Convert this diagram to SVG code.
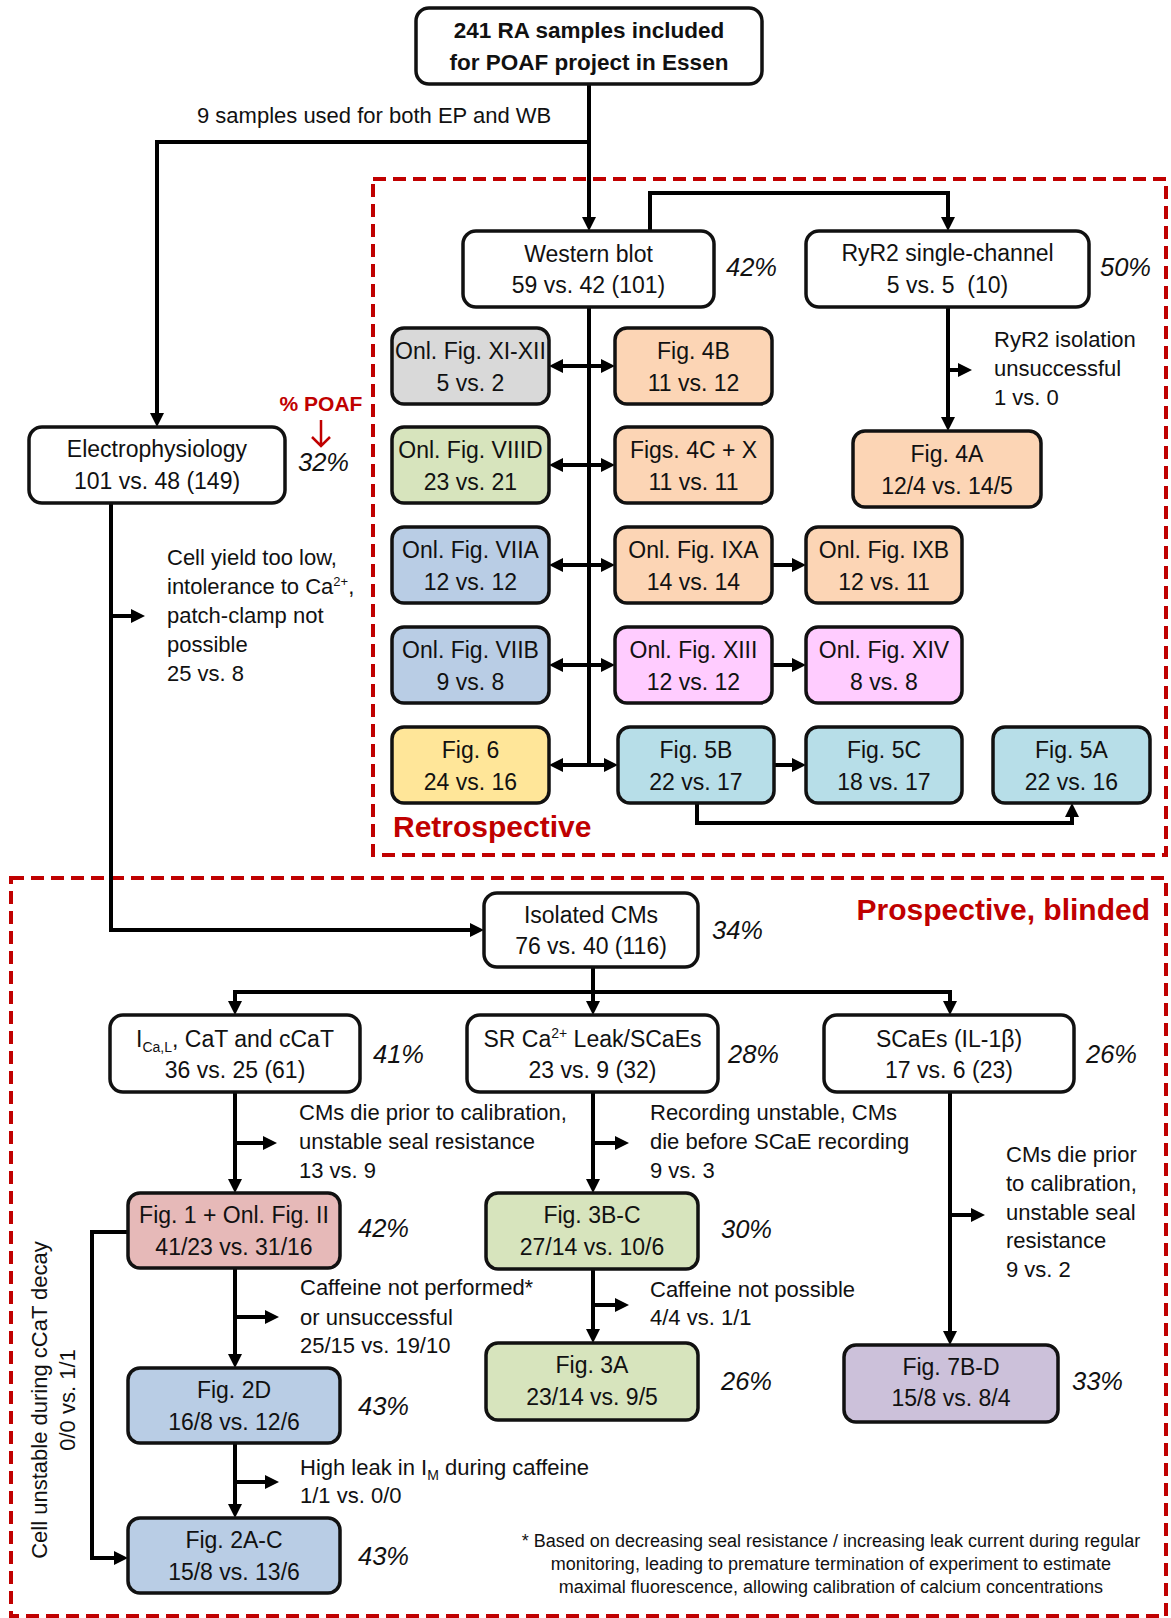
<svg xmlns="http://www.w3.org/2000/svg" width="1171" height="1618" viewBox="0 0 1171 1618">
<style>
.bx{stroke:#111;stroke-width:3.5}
.w{fill:#fff}.or{fill:#fcd5b5}.gy{fill:#d9d9d9}.gn{fill:#d7e4bd}.bl{fill:#b9cde5}.pk{fill:#ffccff}.ye{fill:#ffe699}.lb{fill:#b7dee8}.rd{fill:#e6b9b8}.pu{fill:#ccc1da}
.n{font-family:"Liberation Sans",Arial,sans-serif;font-size:23px;text-anchor:middle;fill:#111}
.t{font-family:"Liberation Sans",Arial,sans-serif;font-size:22.5px;font-weight:bold;text-anchor:middle;fill:#111}
.p{font-family:"Liberation Sans",Arial,sans-serif;font-size:25.5px;font-style:italic;fill:#111}
.a{font-family:"Liberation Sans",Arial,sans-serif;font-size:22px;fill:#111}
.r{font-family:"Liberation Sans",Arial,sans-serif;font-size:30px;font-weight:bold;fill:#c00000}
.f{font-family:"Liberation Sans",Arial,sans-serif;font-size:18px;text-anchor:middle;fill:#111}
.c{fill:none;stroke:#000;stroke-width:4}
.dash{fill:none;stroke:#c00000;stroke-width:4;stroke-dasharray:13 7}
</style>
<defs>
<marker id="ah" markerUnits="userSpaceOnUse" markerWidth="14" markerHeight="14" refX="4" refY="7" orient="auto-start-reverse">
<path d="M0,0 L14,7 L0,14 z" fill="#000"/>
</marker>
</defs>
<rect width="1171" height="1618" fill="#fff"/>

<g id="regions">
<rect class="dash" x="373" y="179" width="793" height="676"/>
<rect class="dash" x="11" y="878" width="1155" height="738"/>
<text class="r" x="393" y="837">Retrospective</text>
<text class="r" x="1150" y="920" text-anchor="end">Prospective, blinded</text>
</g>

<g id="connectors">
<path class="c" d="M589,84 V221" marker-end="url(#ah)"/>
<path class="c" d="M589,142 H157 V417" marker-end="url(#ah)"/>
<path class="c" d="M650,231 V193 H948 V221" marker-end="url(#ah)"/>
<path class="c" d="M589,307 V767"/>
<path class="c" d="M559,366 H605" marker-start="url(#ah)" marker-end="url(#ah)"/>
<path class="c" d="M559,465 H605" marker-start="url(#ah)" marker-end="url(#ah)"/>
<path class="c" d="M559,565 H605" marker-start="url(#ah)" marker-end="url(#ah)"/>
<path class="c" d="M559,665 H605" marker-start="url(#ah)" marker-end="url(#ah)"/>
<path class="c" d="M559,765 H608" marker-start="url(#ah)" marker-end="url(#ah)"/>
<path class="c" d="M948,307 V421" marker-end="url(#ah)"/>
<path class="c" d="M948,370 H962" marker-end="url(#ah)"/>
<path class="c" d="M772,565 H796" marker-end="url(#ah)"/>
<path class="c" d="M772,665 H796" marker-end="url(#ah)"/>
<path class="c" d="M774,765 H796" marker-end="url(#ah)"/>
<path class="c" d="M697,803 V823 H1072 V813" marker-end="url(#ah)"/>
<path class="c" d="M111,503 V930 H474" marker-end="url(#ah)"/>
<path class="c" d="M111,616 H135" marker-end="url(#ah)"/>
<path class="c" d="M593,967 V1005" marker-end="url(#ah)"/>
<path class="c" d="M235,1005 V992 H950 V1005" marker-end="url(#ah)"/>
<path class="c" d="M235,992 V1005" marker-end="url(#ah)"/>
<path class="c" d="M235,1092 V1183" marker-end="url(#ah)"/>
<path class="c" d="M235,1143 H267" marker-end="url(#ah)"/>
<path class="c" d="M593,1092 V1183" marker-end="url(#ah)"/>
<path class="c" d="M593,1143 H619" marker-end="url(#ah)"/>
<path class="c" d="M950,1092 V1335" marker-end="url(#ah)"/>
<path class="c" d="M950,1215 H975" marker-end="url(#ah)"/>
<path class="c" d="M235,1268 V1358" marker-end="url(#ah)"/>
<path class="c" d="M235,1317 H269" marker-end="url(#ah)"/>
<path class="c" d="M235,1443 V1508" marker-end="url(#ah)"/>
<path class="c" d="M235,1482 H269" marker-end="url(#ah)"/>
<path class="c" d="M128,1232 H92 V1558 H118" marker-end="url(#ah)"/>
<path class="c" d="M593,1269 V1333" marker-end="url(#ah)"/>
<path class="c" d="M593,1305 H619" marker-end="url(#ah)"/>
</g>

<g id="labels">
<text class="a" x="197" y="123">9 samples used for both EP and WB</text>
<text class="a" x="994" y="347">RyR2 isolation</text>
<text class="a" x="994" y="376">unsuccessful</text>
<text class="a" x="994" y="405">1 vs. 0</text>
<text class="a" x="167" y="565">Cell yield too low,</text>
<text class="a" x="167" y="594">intolerance to Ca<tspan font-size="13" dy="-8">2+</tspan><tspan dy="8">,</tspan></text>
<text class="a" x="167" y="623">patch-clamp not</text>
<text class="a" x="167" y="652">possible</text>
<text class="a" x="167" y="681">25 vs. 8</text>
<text class="a" x="299" y="1120">CMs die prior to calibration,</text>
<text class="a" x="299" y="1149">unstable seal resistance</text>
<text class="a" x="299" y="1178">13 vs. 9</text>
<text class="a" x="650" y="1120">Recording unstable, CMs</text>
<text class="a" x="650" y="1149">die before SCaE recording</text>
<text class="a" x="650" y="1178">9 vs. 3</text>
<text class="a" x="1006" y="1162">CMs die prior</text>
<text class="a" x="1006" y="1191">to calibration,</text>
<text class="a" x="1006" y="1220">unstable seal</text>
<text class="a" x="1006" y="1248">resistance</text>
<text class="a" x="1006" y="1277">9 vs. 2</text>
<text class="a" x="300" y="1295">Caffeine not performed*</text>
<text class="a" x="300" y="1325">or unsuccessful</text>
<text class="a" x="300" y="1353">25/15 vs. 19/10</text>
<text class="a" x="650" y="1297">Caffeine not possible</text>
<text class="a" x="650" y="1325">4/4 vs. 1/1</text>
<text class="a" x="300" y="1475">High leak in I<tspan font-size="14" dy="5">M</tspan><tspan dy="-5"> during caffeine</tspan></text>
<text class="a" x="300" y="1503">1/1 vs. 0/0</text>
<text class="a" text-anchor="middle" transform="translate(47,1400) rotate(-90)">Cell unstable during cCaT decay</text>
<text class="a" text-anchor="middle" transform="translate(75,1400) rotate(-90)">0/0 vs. 1/1</text>
<text class="f" x="831" y="1547">* Based on decreasing seal resistance / increasing leak current during regular</text>
<text class="f" x="831" y="1570">monitoring, leading to premature termination of experiment to estimate</text>
<text class="f" x="831" y="1593">maximal fluorescence, allowing calibration of calcium concentrations</text>
<text x="321" y="411" font-family="Liberation Sans,Arial,sans-serif" font-size="21" font-weight="bold" fill="#c00000" text-anchor="middle">% POAF</text>
<path d="M321,420 V446 M312,437 L321,446 L330,437" fill="none" stroke="#c00000" stroke-width="2.5"/>
<text class="p" x="298" y="471">32%</text>
<text class="p" x="726" y="276">42%</text>
<text class="p" x="1100" y="276">50%</text>
<text class="p" x="712" y="939">34%</text>
<text class="p" x="373" y="1063">41%</text>
<text class="p" x="728" y="1063">28%</text>
<text class="p" x="1086" y="1063">26%</text>
<text class="p" x="358" y="1237">42%</text>
<text class="p" x="721" y="1238">30%</text>
<text class="p" x="358" y="1415">43%</text>
<text class="p" x="721" y="1390">26%</text>
<text class="p" x="1072" y="1390">33%</text>
<text class="p" x="358" y="1565">43%</text>
</g>

<g id="n-top"><rect class="bx w" x="416" y="8" width="346" height="76" rx="13"/>
<text class="t" x="589" y="38">241 RA samples included</text><text class="t" x="589" y="70">for POAF project in Essen</text></g>

<g id="n-wb"><rect class="bx w" x="463" y="231" width="251" height="76" rx="13"/>
<text class="n" x="588.5" y="262">Western blot</text><text class="n" x="588.5" y="293">59 vs. 42 (101)</text></g>

<g id="n-ryr2"><rect class="bx w" x="806" y="231" width="283" height="76" rx="13"/>
<text class="n" x="947.5" y="261">RyR2 single-channel</text><text class="n" x="947.5" y="293">5 vs. 5&#160; (10)</text></g>

<g id="n-ep"><rect class="bx w" x="29" y="427" width="256" height="76" rx="13"/>
<text class="n" x="157" y="457">Electrophysiology</text><text class="n" x="157" y="489">101 vs. 48 (149)</text></g>

<g id="n-xi"><rect class="bx gy" x="392" y="328" width="157" height="76" rx="12"/>
<text class="n" x="470.5" y="359" font-size="22">Onl. Fig. XI-XII</text><text class="n" x="470.5" y="391">5 vs. 2</text></g>
<g id="n-viiid"><rect class="bx gn" x="392" y="427" width="157" height="76" rx="12"/>
<text class="n" x="470.5" y="458" font-size="22">Onl. Fig. VIIID</text><text class="n" x="470.5" y="490">23 vs. 21</text></g>
<g id="n-viia"><rect class="bx bl" x="392" y="527" width="157" height="76" rx="12"/>
<text class="n" x="470.5" y="558">Onl. Fig. VIIA</text><text class="n" x="470.5" y="590">12 vs. 12</text></g>
<g id="n-viib"><rect class="bx bl" x="392" y="627" width="157" height="76" rx="12"/>
<text class="n" x="470.5" y="658">Onl. Fig. VIIB</text><text class="n" x="470.5" y="690">9 vs. 8</text></g>
<g id="n-f6"><rect class="bx ye" x="392" y="727" width="157" height="76" rx="12"/>
<text class="n" x="470.5" y="758">Fig. 6</text><text class="n" x="470.5" y="790">24 vs. 16</text></g>

<g id="n-4b"><rect class="bx or" x="615" y="328" width="157" height="76" rx="12"/>
<text class="n" x="693.5" y="359">Fig. 4B</text><text class="n" x="693.5" y="391">11 vs. 12</text></g>
<g id="n-4c"><rect class="bx or" x="615" y="427" width="157" height="76" rx="12"/>
<text class="n" x="693.5" y="458">Figs. 4C + X</text><text class="n" x="693.5" y="490">11 vs. 11</text></g>
<g id="n-ixa"><rect class="bx or" x="615" y="527" width="157" height="76" rx="12"/>
<text class="n" x="693.5" y="558">Onl. Fig. IXA</text><text class="n" x="693.5" y="590">14 vs. 14</text></g>
<g id="n-xiii"><rect class="bx pk" x="615" y="627" width="157" height="76" rx="12"/>
<text class="n" x="693.5" y="658">Onl. Fig. XIII</text><text class="n" x="693.5" y="690">12 vs. 12</text></g>
<g id="n-5b"><rect class="bx lb" x="618" y="727" width="156" height="76" rx="12"/>
<text class="n" x="696" y="758">Fig. 5B</text><text class="n" x="696" y="790">22 vs. 17</text></g>

<g id="n-ixb"><rect class="bx or" x="806" y="527" width="156" height="76" rx="12"/>
<text class="n" x="884" y="558">Onl. Fig. IXB</text><text class="n" x="884" y="590">12 vs. 11</text></g>
<g id="n-xiv"><rect class="bx pk" x="806" y="627" width="156" height="76" rx="12"/>
<text class="n" x="884" y="658">Onl. Fig. XIV</text><text class="n" x="884" y="690">8 vs. 8</text></g>
<g id="n-5c"><rect class="bx lb" x="806" y="727" width="156" height="76" rx="12"/>
<text class="n" x="884" y="758">Fig. 5C</text><text class="n" x="884" y="790">18 vs. 17</text></g>
<g id="n-5a"><rect class="bx lb" x="993" y="727" width="157" height="76" rx="12"/>
<text class="n" x="1071.5" y="758">Fig. 5A</text><text class="n" x="1071.5" y="790">22 vs. 16</text></g>
<g id="n-4a"><rect class="bx or" x="853" y="431" width="188" height="76" rx="12"/>
<text class="n" x="947" y="462">Fig. 4A</text><text class="n" x="947" y="494">12/4 vs. 14/5</text></g>

<g id="n-iso"><rect class="bx w" x="484" y="893" width="214" height="74" rx="13"/>
<text class="n" x="591" y="923">Isolated CMs</text><text class="n" x="591" y="954">76 vs. 40 (116)</text></g>

<g id="n-ical"><rect class="bx w" x="110" y="1015" width="250" height="77" rx="13"/>
<text class="n" x="235" y="1047">I<tspan font-size="14" dy="5">Ca,L</tspan><tspan dy="-5">, CaT and cCaT</tspan></text><text class="n" x="235" y="1078">36 vs. 25 (61)</text></g>
<g id="n-sr"><rect class="bx w" x="467" y="1015" width="251" height="77" rx="13"/>
<text class="n" x="592.5" y="1047">SR Ca<tspan font-size="14" dy="-9">2+</tspan><tspan dy="9"> Leak/SCaEs</tspan></text><text class="n" x="592.5" y="1078">23 vs. 9 (32)</text></g>
<g id="n-scae"><rect class="bx w" x="824" y="1015" width="250" height="77" rx="13"/>
<text class="n" x="949" y="1047">SCaEs (IL-1β)</text><text class="n" x="949" y="1078">17 vs. 6 (23)</text></g>

<g id="n-f1"><rect class="bx rd" x="128" y="1193" width="212" height="75" rx="12"/>
<text class="n" x="234" y="1223">Fig. 1 + Onl. Fig. II</text><text class="n" x="234" y="1255">41/23 vs. 31/16</text></g>
<g id="n-f2d"><rect class="bx bl" x="128" y="1368" width="212" height="75" rx="12"/>
<text class="n" x="234" y="1398">Fig. 2D</text><text class="n" x="234" y="1430">16/8 vs. 12/6</text></g>
<g id="n-f2ac"><rect class="bx bl" x="128" y="1518" width="212" height="75" rx="12"/>
<text class="n" x="234" y="1548">Fig. 2A-C</text><text class="n" x="234" y="1580">15/8 vs. 13/6</text></g>
<g id="n-f3bc"><rect class="bx gn" x="486" y="1193" width="212" height="76" rx="12"/>
<text class="n" x="592" y="1223">Fig. 3B-C</text><text class="n" x="592" y="1255">27/14 vs. 10/6</text></g>
<g id="n-f3a"><rect class="bx gn" x="486" y="1343" width="212" height="77" rx="12"/>
<text class="n" x="592" y="1373">Fig. 3A</text><text class="n" x="592" y="1405">23/14 vs. 9/5</text></g>
<g id="n-f7"><rect class="bx pu" x="844" y="1345" width="214" height="77" rx="12"/>
<text class="n" x="951" y="1375">Fig. 7B-D</text><text class="n" x="951" y="1406">15/8 vs. 8/4</text></g>
</svg>
